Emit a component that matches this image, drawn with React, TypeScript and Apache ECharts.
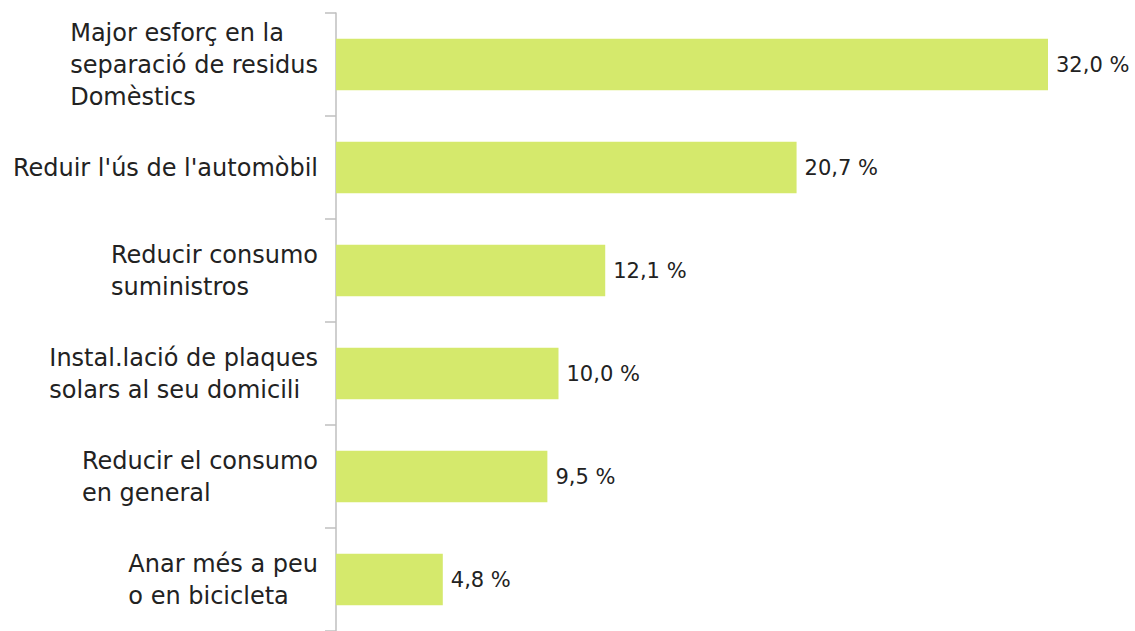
import React, { useEffect, useRef } from "react";
import * as echarts from "echarts";

const categories = [
  "Major esforç en la\nseparació de residus\nDomèstics",
  "Reduir l'ús de l'automòbil",
  "Reducir consumo\nsuministros",
  "Instal.lació de plaques\nsolars al seu domicili",
  "Reducir el consumo\nen general",
  "Anar més a peu\no en bicicleta",
];
const values = [32.0, 20.7, 12.1, 10.0, 9.5, 4.8];

const FONT = "DejaVu Sans";

export default function App() {
  const ref = useRef<HTMLDivElement>(null);
  useEffect(() => {
    const chart = echarts.init(ref.current!, null, { renderer: "svg" });
    chart.setOption({
      animation: false,
      grid: { left: 336, right: 87, top: 13, bottom: 0, containLabel: false },
      xAxis: {
        type: "value",
        min: 0,
        max: 32,
        show: false,
      },
      yAxis: {
        type: "category",
        data: categories,
        inverse: true,
        axisLine: { show: true, lineStyle: { color: "#bfbfbf", width: 1.5 } },
        axisTick: { show: true, length: 11, lineStyle: { color: "#bfbfbf", width: 1.5 } },
        axisLabel: {
          margin: 18,
          align: "right",
          color: "#222222",
          fontFamily: FONT,
          fontSize: 24,
          lineHeight: 32,
          formatter: (v: string) =>
            v
              .split("\n")
              .map((l) => `{l|${l}}`)
              .join("\n"),
          rich: {
            l: {
              align: "left",
              color: "#222222",
              fontFamily: FONT,
              fontSize: 24,
              lineHeight: 32,
            },
          },
        },
        splitLine: { show: false },
      },
      series: [
        {
          type: "bar",
          data: values,
          barWidth: "50%",
          itemStyle: { color: "#d5e96c" },
          label: {
            show: true,
            position: "right",
            distance: 8,
            color: "#222222",
            fontFamily: FONT,
            fontSize: 21,
            formatter: (p: any) => p.value.toFixed(1).replace(".", ",") + " %",
          },
        },
      ],
    });
    return () => chart.dispose();
  }, []);
  return (
    <div
      ref={ref}
      style={{ position: "fixed", left: 0, top: 0, width: 1135, height: 631, background: "#fff" }}
    />
  );
}
